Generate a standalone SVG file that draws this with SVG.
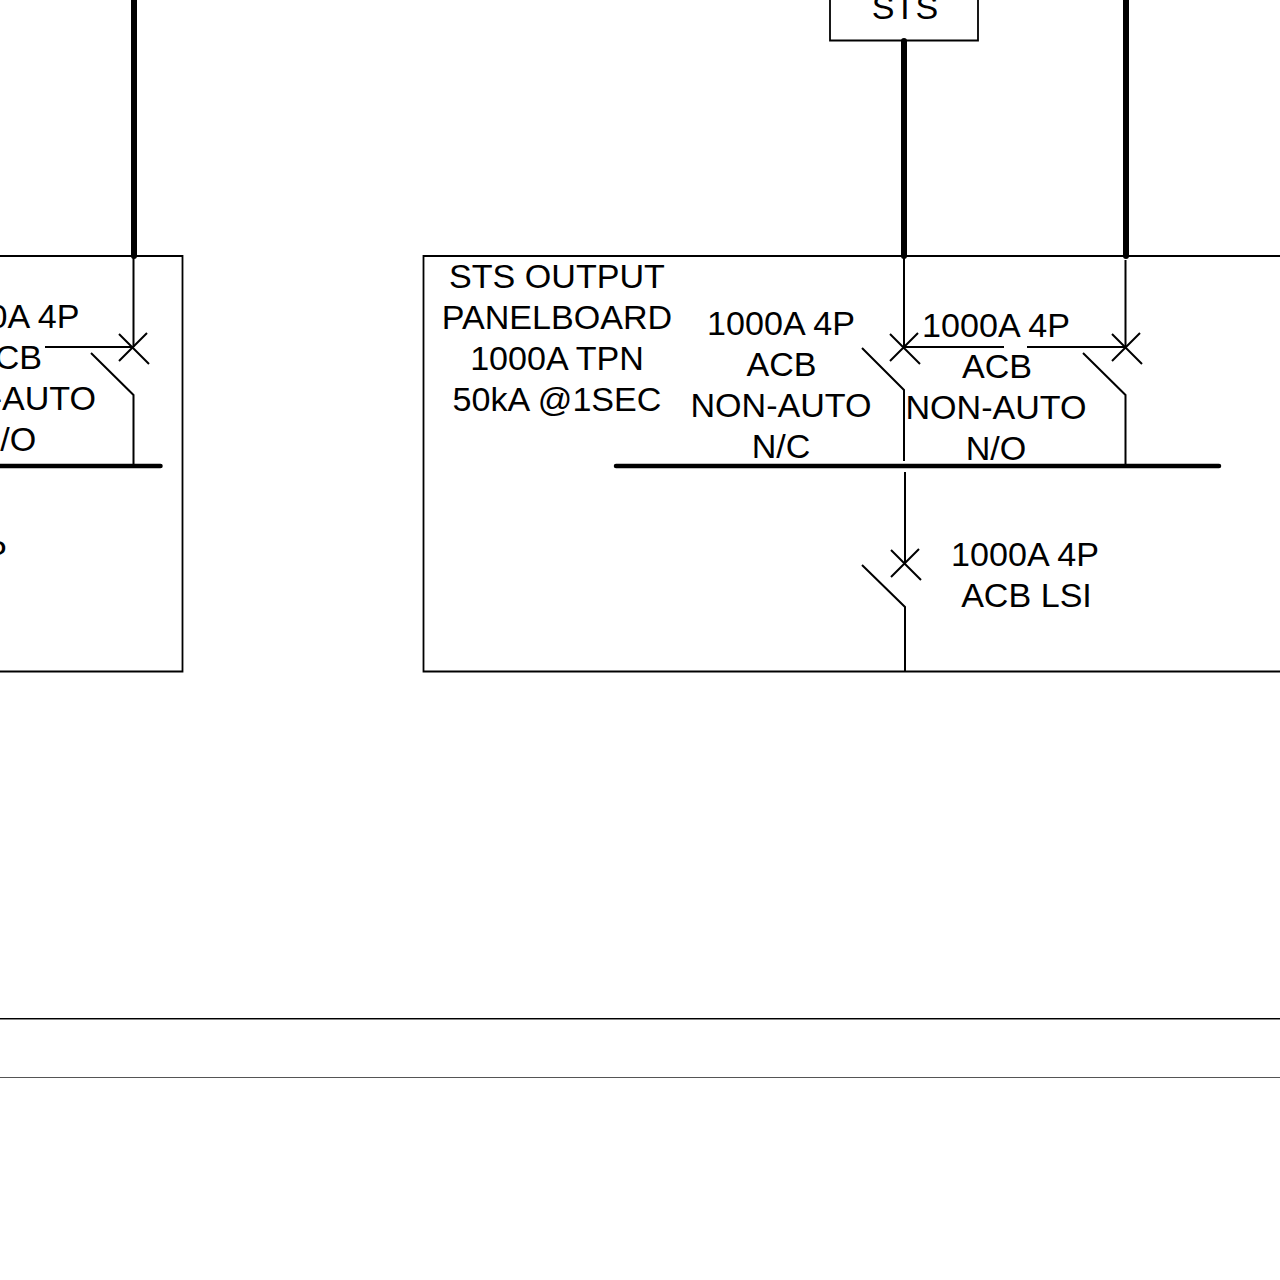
<svg xmlns="http://www.w3.org/2000/svg" width="1280" height="1280" viewBox="0 0 1280 1280">
<style>
text{font-family:"Liberation Sans",Arial,sans-serif;font-size:34.1px;fill:#000;text-anchor:middle}
.t{fill:none;stroke:#000;stroke-width:2;stroke-linecap:butt;stroke-linejoin:miter}
.box{fill:none;stroke:#000;stroke-width:1.8}
.feed{fill:none;stroke:#000;stroke-width:6;stroke-linecap:round}
.bus{fill:none;stroke:#000;stroke-width:4.5;stroke-linecap:round}
</style>
<rect width="1280" height="1280" fill="#fff"/>
<g id="connectors">
<path class="feed" d="M134 -5V256"/>
<path class="feed" d="M904 41V256"/>
<path class="feed" d="M1126 -5V256"/>
</g>
<g id="panel-left">
<path class="box" d="M-5 256H182.500V671.500H-5"/>
<path class="bus" d="M-5 466H160.500"/>
<path class="t" d="M133.500 256V347"/>
<path class="t" d="M45 347H133.500"/>
<path class="t" d="M119 334L149 364M119 361L147 333"/>
<path class="t" d="M91 353L133.500 395V466"/>
<g><text x="5.500" y="328">1000A 4P</text><text x="7" y="369">ACB</text><text x="5.500" y="410">NON-AUTO</text><text x="6" y="451">N/O</text><text x="-67" y="564">1000A 4P</text></g>
</g>
<g id="sts">
<path class="box" d="M830 -5V40.500H978V-5"/>
<text x="905" y="19">STS</text>
</g>
<g id="panel-sts-output">
<path class="box" d="M1285 256H423.500V671.500H1285"/>
<path class="bus" d="M616 466H1219"/>
<text x="557" y="288">STS OUTPUT</text><text x="557" y="329">PANELBOARD</text><text x="557" y="370">1000A TPN</text><text x="557" y="411">50kA @1SEC</text>
</g>
<g id="breaker-nc">
<path class="t" d="M904 256V347"/>
<path class="t" d="M904 347H1004"/>
<path class="t" d="M890 334L920 364M890 361L918 333"/>
<path class="t" d="M862 348L904 390V461"/>
<text x="781" y="335">1000A 4P</text><text x="781.500" y="376">ACB</text><text x="781" y="417">NON-AUTO</text><text x="781" y="458">N/C</text>
</g>
<g id="breaker-no">
<path class="t" d="M1125.500 260V347"/>
<path class="t" d="M1027 347H1125.500"/>
<path class="t" d="M1112 334L1142 364M1112 361L1140 333"/>
<path class="t" d="M1083 353L1125.500 395V466"/>
<text x="996" y="337">1000A 4P</text><text x="997" y="378">ACB</text><text x="996" y="419">NON-AUTO</text><text x="996" y="460">N/O</text>
</g>
<g id="breaker-lsi">
<path class="t" d="M905 472V564"/>
<path class="t" d="M891 550L921 580M891 577L919 549"/>
<path class="t" d="M862 565L905 607V671"/>
<text x="1025" y="566">1000A 4P</text><text x="1026.500" y="607">ACB LSI</text>
</g>
<g id="rules">
<path fill="none" stroke="#000" stroke-width="1" d="M0 1018.500H1280"/>
<path fill="none" stroke="#888" stroke-width="1" d="M0 1019.500H1280"/>
<path fill="none" stroke="#555" stroke-width="1" d="M0 1077.500H1280"/>
</g>
</svg>
